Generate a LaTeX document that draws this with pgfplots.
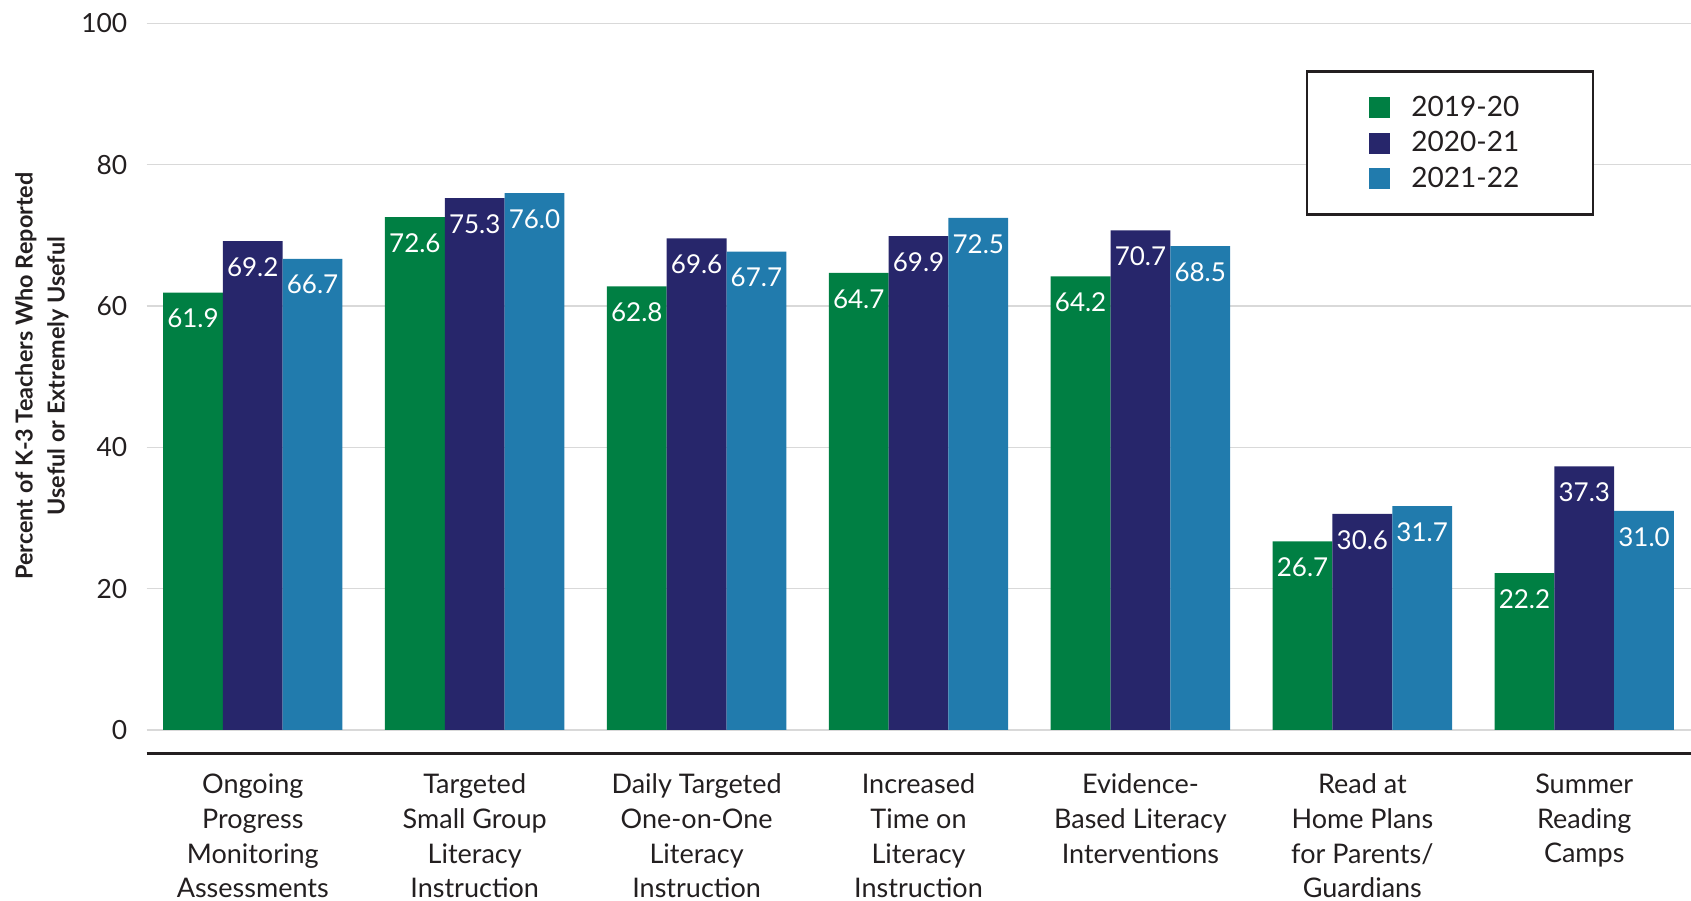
\documentclass[border=0pt]{standalone}
\usepackage{pgfplots}
\pgfplotsset{compat=1.18}
\usepackage{fontspec}
\setmainfont{Lato}

\definecolor{cgreen}{HTML}{007F43}
\definecolor{cnavy}{HTML}{27266B}
\definecolor{cblue}{HTML}{217BAD}
\definecolor{ctext}{HTML}{231F20}
\definecolor{cgrid}{HTML}{D9D9D9}

\begin{document}
\begin{tikzpicture}
\begin{axis}[
  at={(0,0)}, anchor=south west,
  scale only axis,
  width=772.15pt, height=364.9pt,
  xmin=-0.478, xmax=6.481,
  ymin=-3.3, ymax=100,
  axis lines*=left,
  y axis line style={draw=none},
  x axis line style={-, line width=1.35pt, draw=ctext},
  major tick length=0pt,
  ytick={0,20,40,60,80,100},
  ymajorgrids=true,
  grid style={cgrid, line width=0.65pt},
  xtick={0,1,2,3,4,5,6},
  xticklabels={
    {Ongoing\\Progress\\Monitoring\\Assessments},
    {Targeted\\Small Group\\Literacy\\Instruction},
    {Daily Targeted\\One-on-One\\Literacy\\Instruction},
    {Increased\\Time on\\Literacy\\Instruction},
    {Evidence-\\Based Literacy\\Interventions},
    {Read at\\Home Plans\\for Parents/\\Guardians},
    {Summer\\Reading\\Camps}},
  /pgf/number format/assume math mode=true,
  yticklabel style={font=\fontsize{13.2}{16}\selectfont, text=ctext, inner sep=0pt, xshift=-9.5pt},
  xticklabel style={font=\fontsize{13.5}{17.4}\selectfont, text=ctext, align=center, anchor=north, inner sep=0pt, yshift=-10pt},
  ylabel={Percent of K-3 Teachers Who Reported\\Useful or Extremely Useful},
  ylabel style={font=\bfseries\fontsize{11.7}{16}\selectfont, text=ctext, align=center,
    at={(axis description cs:-0.0678,0.517)}, anchor=center, rotate=0},
  ybar, bar width=0.2695,
  nodes near coords,
  point meta=y,
  nodes near coords style={font=\fontsize{13}{16}\selectfont, text=white, anchor=center, yshift=-13pt,
    /pgf/number format/.cd, fixed, fixed zerofill, precision=1},
  legend image code/.code={\fill[#1] (0pt,-5.25pt) rectangle (10.5pt,5.25pt);},
  legend style={at={(rel axis cs:0.9372,0.936)}, anchor=north east,
    draw=ctext, line width=1.2pt, inner xsep=31pt, inner ysep=11.9pt,
    font=\fontsize{14}{16}\selectfont, text=ctext,
    row sep=5.9pt,
    nodes={inner ysep=0pt, text height=10.4pt, text depth=1.6pt},
    /tikz/every odd column/.append style={column sep=8.8pt},
    /tikz/every even column/.append style={column sep=0pt}},
  legend cell align=left,
]
\addplot[fill=cgreen, draw=none, bar shift=-0.2695] coordinates {
  (0,61.9) (1,72.6) (2,62.8) (3,64.7) (4,64.2) (5,26.7) (6,22.2)};
\addlegendentry{\makebox[57.7pt][l]{2019-20}}
\addplot[fill=cnavy, draw=none, bar shift=0] coordinates {
  (0,69.2) (1,75.3) (2,69.6) (3,69.9) (4,70.7) (5,30.6) (6,37.3)};
\addlegendentry{\makebox[57.7pt][l]{2020-21}}
\addplot[fill=cblue, draw=none, bar shift=0.2695] coordinates {
  (0,66.7) (1,76.0) (2,67.7) (3,72.5) (4,68.5) (5,31.7) (6,31.0)};
\addlegendentry{\makebox[57.7pt][l]{2021-22}}
\end{axis}
\pgfresetboundingbox
\path[use as bounding box] (-73.35pt,-73.35pt) rectangle (772.15pt,376.65pt);
\end{tikzpicture}
\end{document}
